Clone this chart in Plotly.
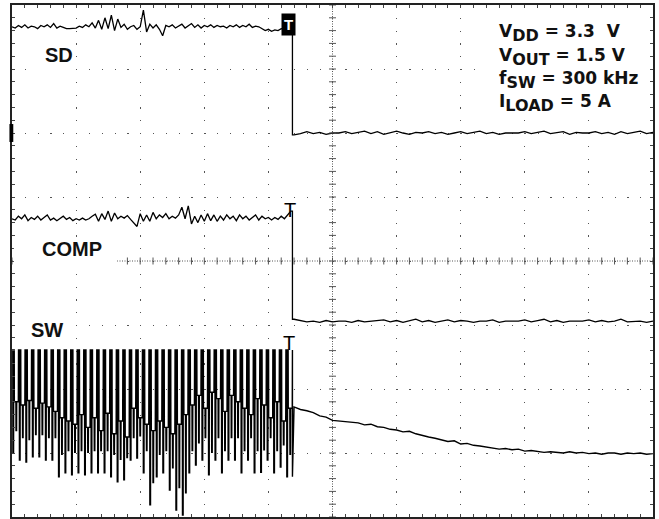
import numpy as np
import plotly.graph_objects as go

# ---------------- data (screen divisions: x 0..10, y 0..8) ----------------
TRIG = 4.375          # trigger instant (div)
PRE_STEP = 0.05       # sample spacing before trigger
POST_START = 4.4
POST_STEP = 0.1       # sample spacing after trigger

sd_pre = [7.66, 7.64, 7.68, 7.65, 7.69, 7.64, 7.67, 7.66, 7.63, 7.68,
          7.66, 7.69, 7.65, 7.71, 7.64, 7.67, 7.65, 7.63, 7.63, 7.63,
          7.64, 7.67, 7.65, 7.69, 7.66, 7.72, 7.64, 7.76, 7.62, 7.80,
          7.63, 7.84, 7.60, 7.78, 7.65, 7.70, 7.62, 7.66, 7.68, 7.62,
          7.66, 7.92, 7.58, 7.70, 7.64, 7.69, 7.62, 7.52, 7.68, 7.66,
          7.69, 7.64, 7.67, 7.70, 7.64, 7.68, 7.71, 7.65, 7.69, 7.64,
          7.68, 7.66, 7.69, 7.65, 7.68, 7.66, 7.67, 7.64, 7.68, 7.66,
          7.69, 7.65, 7.68, 7.66, 7.70, 7.65, 7.67, 7.66, 7.63, 7.60,
          7.62, 7.59, 7.61, 7.60, 7.63, 7.62, 7.64, 7.65]
sd_post = [5.97, 5.99, 6.02, 5.99, 6.01, 5.98, 6.00, 6.00, 6.02, 5.99,
           6.01, 6.03, 5.99, 6.02, 5.98, 6.01, 6.03, 6.00, 5.98, 6.01,
           6.00, 6.02, 5.99, 6.01, 5.98, 6.00, 6.02, 5.99, 6.01, 6.03,
           5.99, 6.01, 5.98, 6.00, 6.00, 6.00, 6.02, 5.99, 6.01, 6.03,
           5.99, 6.00, 6.02, 5.98, 6.01, 6.00, 6.00, 6.02, 5.99, 6.01,
           5.98, 6.02, 5.99, 6.01, 6.03, 5.99, 6.01]

comp_pre = [4.66, 4.64, 4.70, 4.66, 4.72, 4.63, 4.68, 4.65, 4.70, 4.64,
            4.68, 4.72, 4.64, 4.67, 4.63, 4.66, 4.70, 4.65, 4.68, 4.63,
            4.66, 4.64, 4.67, 4.64, 4.66, 4.70, 4.73, 4.62, 4.74, 4.65,
            4.78, 4.62, 4.75, 4.66, 4.70, 4.67, 4.71, 4.65, 4.60, 4.54,
            4.74, 4.62, 4.72, 4.62, 4.76, 4.66, 4.72, 4.68, 4.74, 4.66,
            4.70, 4.67, 4.72, 4.84, 4.66, 4.86, 4.58, 4.70, 4.60, 4.72,
            4.62, 4.74, 4.63, 4.72, 4.62, 4.70, 4.64, 4.72, 4.66, 4.70,
            4.63, 4.72, 4.66, 4.70, 4.64, 4.68, 4.72, 4.64, 4.70, 4.66,
            4.68, 4.64, 4.68, 4.65, 4.70, 4.66, 4.72, 4.78]
comp_post = [3.09, 3.07, 3.05, 3.06, 3.04, 3.07, 3.05, 3.06, 3.06, 3.04,
             3.07, 3.05, 3.06, 3.06, 3.08, 3.05, 3.07, 3.04, 3.06, 3.09,
             3.05, 3.07, 3.04, 3.06, 3.08, 3.05, 3.07, 3.06, 3.04, 3.06,
             3.06, 3.08, 3.04, 3.06, 3.06, 3.06, 3.08, 3.05, 3.07, 3.09,
             3.05, 3.07, 3.04, 3.06, 3.06, 3.06, 3.08, 3.05, 3.07, 3.05,
             3.06, 3.09, 3.05, 3.06, 3.06, 3.04, 3.06]

sw_high = 2.61
sw_low = [1.00, 0.89, 0.86, 0.94, 0.94, 0.89, 0.89, 0.63, 0.69, 0.66,
          0.69, 0.66, 0.69, 0.69, 0.69, 0.63, 0.55, 0.58, 0.89, 0.92,
          0.69, 0.19, 0.63, 0.69, 0.42, 0.11, 0.03, 0.69, 0.81, 0.89,
          0.66, 0.89, 0.69, 0.89, 0.89, 0.69, 0.89, 0.69, 0.70, 0.89,
          0.69, 0.78, 0.63]
sw_mid = [1.80, 1.75, 1.82, 1.70, 1.78, 1.72, 1.65, 1.55, 1.50, 1.45,
          1.60, 1.40, 1.55, 1.35, 1.62, 1.30, 1.50, 1.25, 1.70, 1.55,
          1.45, 1.35, 1.50, 1.40, 1.30, 1.45, 1.60, 1.75, 1.90, 1.70,
          1.95, 1.85, 1.65, 1.90, 1.80, 1.70, 1.60, 1.85, 1.75, 1.55,
          1.80, 1.50, 1.70]
sw_post = [1.72, 1.68, 1.66, 1.63, 1.58, 1.56, 1.51, 1.50, 1.49, 1.48,
           1.47, 1.44, 1.45, 1.41, 1.40, 1.37, 1.36, 1.33, 1.34, 1.30,
           1.27, 1.25, 1.23, 1.21, 1.18, 1.19, 1.14, 1.15, 1.12, 1.11,
           1.09, 1.08, 1.06, 1.07, 1.05, 1.06, 1.03, 1.04, 1.02, 1.01,
           1.02, 1.01, 1.00, 1.02, 1.00, 1.01, 0.99, 1.00, 0.98, 1.00,
           1.00, 0.98, 1.00, 0.99, 1.00, 0.98, 0.99]

labels = ["SD", "COMP", "SW"]
conditions = ["V<sub>DD</sub> = 3.3  V", "V<sub>OUT</sub> = 1.5 V",
              "f<sub>SW</sub> = 300 kHz", "I<sub>LOAD</sub> = 5 A"]

# ---------------- build traces ----------------
t_pre = [round(i * PRE_STEP, 4) for i in range(len(sd_pre))]
t_post = [round(POST_START + i * POST_STEP, 4) for i in range(len(sd_post))]

sd_x = t_pre + [TRIG, TRIG] + t_post
sd_y = sd_pre + [sd_pre[-1], sd_post[0]] + sd_post
comp_x = t_pre + [TRIG, TRIG] + t_post
comp_y = comp_pre + [comp_pre[-1], comp_post[0]] + comp_post

# switching node: each cycle -> high, fall to low, back high, drop to mid level
n = len(sw_low)
per = TRIG / n
phase = [0.0, 0.12, 0.14, 0.24, 0.26, 0.34, 0.36, 0.60, 0.62, 0.70, 0.72, 0.97]
sw_x, sw_y = [], []
for i in range(n):
    t0 = i * per
    lv = [sw_high, sw_high, sw_low[i], sw_low[i], sw_high, sw_high, sw_mid[i], sw_mid[i],
          sw_low[i] + 0.35, sw_low[i] + 0.35, sw_mid[i], sw_mid[i]]
    for ph, v in zip(phase, lv):
        sw_x.append(t0 + ph * per)
        sw_y.append(v)
sw_x += [TRIG, TRIG] + t_post
sw_y += [sw_high, sw_low[-1]] + sw_post

LINE = dict(color="black", width=1.3)
fig = go.Figure()
fig.add_trace(go.Scatter(x=sd_x, y=sd_y, mode="lines", line=LINE, hoverinfo="skip"))
fig.add_trace(go.Scatter(x=comp_x, y=comp_y, mode="lines", line=LINE, hoverinfo="skip"))
fig.add_trace(go.Scatter(x=sw_x, y=sw_y, mode="lines", line=dict(color="black", width=1.4),
                         hoverinfo="skip"))

# centre graticule lines with fine ticks
minor_x = [k * 0.2 for k in range(51)]
minor_y = [k * 0.2 for k in range(41)]
fig.add_trace(go.Scatter(x=minor_x, y=[4] * len(minor_x), mode="markers",
                         marker=dict(symbol="line-ns", size=5, line=dict(color="#555", width=1)),
                         hoverinfo="skip"))
fig.add_trace(go.Scatter(x=[5] * len(minor_y), y=minor_y, mode="markers",
                         marker=dict(symbol="line-ew", size=5, line=dict(color="#555", width=1)),
                         hoverinfo="skip"))

GRID = "#555"
shapes = [
    dict(type="line", xref="x", yref="y", x0=0, x1=10, y0=4, y1=4,
         line=dict(color=GRID, width=1, dash="1px,1.5px"), layer="between"),
    dict(type="line", xref="x", yref="y", x0=5, x1=5, y0=0, y1=8,
         line=dict(color=GRID, width=1, dash="1px,1.5px"), layer="between"),
    # white boxes behind labels
    dict(type="rect", xref="x", yref="y", x0=0.34, x1=0.97, y0=6.95, y1=7.42,
         fillcolor="white", line=dict(width=0), layer="above"),
    dict(type="rect", xref="x", yref="y", x0=0.03, x1=1.64, y0=3.92, y1=4.37,
         fillcolor="white", line=dict(width=0), layer="above"),
    dict(type="rect", xref="x", yref="y", x0=0.16, x1=0.98, y0=2.73, y1=3.10,
         fillcolor="white", line=dict(width=0), layer="above"),
    dict(type="rect", xref="x", yref="y", x0=7.38, x1=9.95, y0=6.27, y1=7.86,
         fillcolor="white", line=dict(width=0), layer="above"),
    # ground-level marker on left edge
    dict(type="rect", xref="paper", yref="y", x0=-0.004, x1=0.002, y0=5.86, y1=6.14,
         fillcolor="black", line=dict(width=0)),
]

LBL = dict(family="Liberation Sans, Arial, sans-serif", size=20, color="#111")
COND = dict(family="DejaVu Sans, sans-serif", size=17, color="#111")
ann = [
    dict(x=0.73, y=7.22, text="<b>%s</b>" % labels[0], font=LBL),
    dict(x=0.94, y=4.19, text="<b>%s</b>" % labels[1], font=LBL),
    dict(x=0.55, y=2.92, text="<b>%s</b>" % labels[2], font=LBL),
    dict(x=4.32, y=7.69, text="<b>T</b>", bgcolor="black", borderpad=2,
         font=dict(family="Liberation Sans, Arial", size=15, color="white")),
    dict(x=4.34, y=4.80, text="T", font=dict(family="Liberation Sans, Arial", size=20, color="black")),
    dict(x=4.32, y=2.72, text="T", font=dict(family="Liberation Sans, Arial", size=20, color="black")),
]
for i, c in enumerate(conditions):
    txt = c.replace("<sub>", "<sub><span style='font-size:16px'>").replace("</sub>", "</span></sub>")
    ann.append(dict(x=7.56, y=7.78 - i * 0.366, xanchor="left", yanchor="top", align="left",
                    text="<b>%s</b>" % txt, font=COND))
for a in ann:
    a.setdefault("xref", "x")
    a.setdefault("yref", "y")
    a.setdefault("showarrow", False)

axis_common = dict(showticklabels=False, zeroline=False, showline=True, linecolor="#222",
                   linewidth=1.5, mirror="allticks", ticks="inside", ticklen=3,
                   tickcolor="#444", tickwidth=1, dtick=1, tick0=0, showgrid=True,
                   gridcolor=GRID, gridwidth=1.2, fixedrange=True,
                   minor=dict(dtick=0.2, ticks="inside", ticklen=3, tickcolor="#444",
                              tickwidth=1, showgrid=False))

fig.update_layout(
    width=659, height=519,
    margin=dict(l=12, r=6, t=5, b=2),
    paper_bgcolor="white", plot_bgcolor="white",
    showlegend=False,
    xaxis=dict(range=[0, 10], griddash="1.2px,11.6px", **axis_common),
    yaxis=dict(range=[0, 8], griddash="1.2px,11.62px", **axis_common),
    shapes=shapes, annotations=ann,
)
fig.write_html("out.html", config={"displayModeBar": False},
               post_script="document.body.style.margin='0px';")
